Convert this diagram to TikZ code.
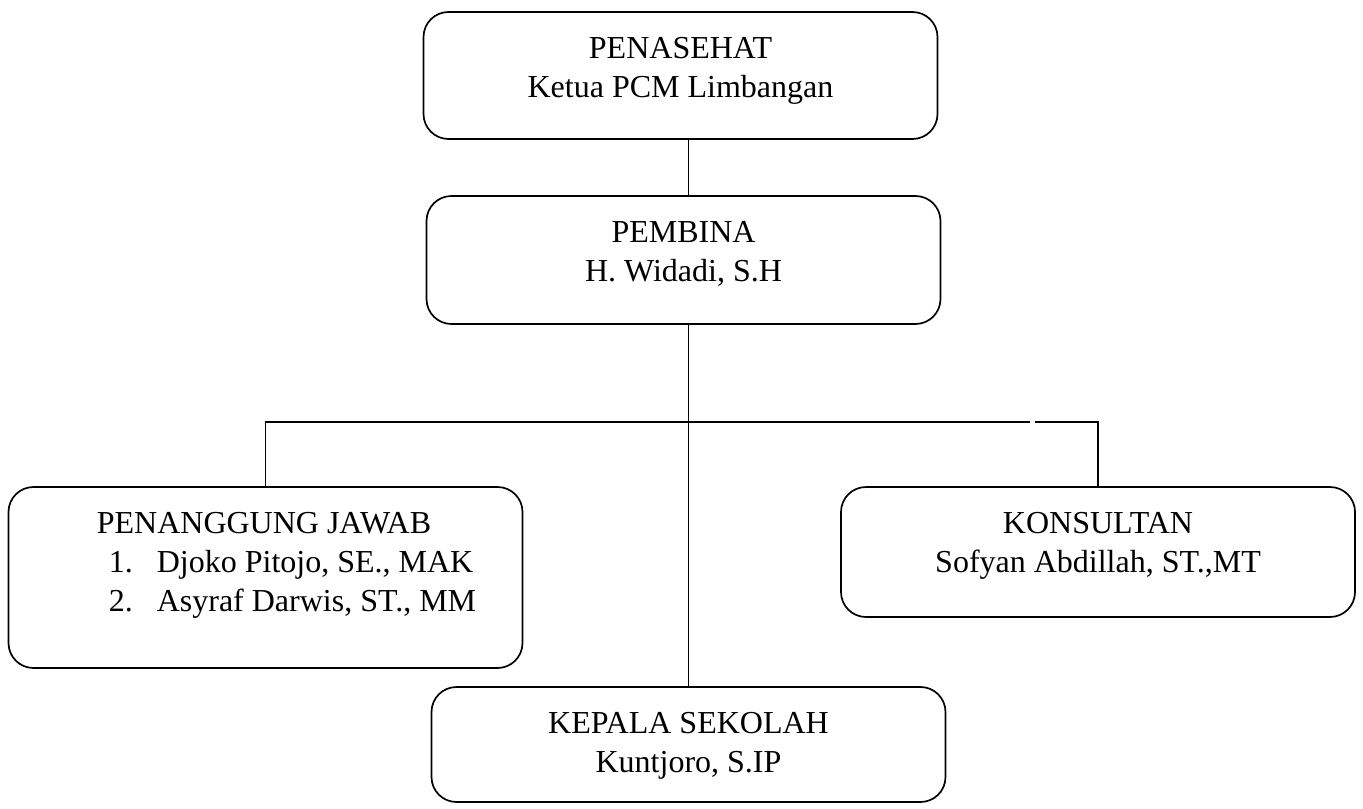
\documentclass[tikz,border=0pt]{standalone}
\usepackage{fontspec}
\setmainfont{Liberation Serif}
\usetikzlibrary{positioning}

\tikzset{
  kotak/.style={draw, rounded corners=12.5pt, minimum width=257pt},
  teks/.style={align=center, inner sep=0pt, font=\fontsize{16pt}{19.5pt}\selectfont},
}

\begin{document}
\begin{tikzpicture}[x=0.5pt, y=-0.5pt, line width=0.85pt, node distance=12.5pt]
        \useasboundingbox (0,0) rectangle (1363,808);

        % Penasehat dan pembina
        \node[kotak, minimum height=63.5pt] (penasehat) at (680.5,75.5) {};
        \node[teks, below=of penasehat.north] (penasehat-t) {PENASEHAT\\Ketua PCM Limbangan};
        \node[kotak, minimum height=64pt] (pembina) at (683.5,260) {};
        \node[teks, below=of pembina.north] (pembina-t) {PEMBINA\\H. Widadi, S.H};

        % Baris bawah
        \node[kotak, minimum height=90.5pt] (pj) at (265.5,577.5) {};
        \node[teks, align=left, anchor=north west] (pj-t) at (96,511)
            {PENANGGUNG JAWAB\\\hspace*{6pt}\makebox[24pt][l]{1.}Djoko Pitojo, SE., MAK\\\hspace*{6pt}\makebox[24pt][l]{2.}Asyraf Darwis, ST., MM};
        \node[kotak, minimum height=65pt] (konsultan) at (1098,552) {};
        \node[teks, below=of konsultan.north] (konsultan-t) {KONSULTAN\\Sofyan Abdillah, ST.,MT};
        \node[kotak, minimum height=57.5pt] (kepsek) at (688.5,744.5) {};
        \node[teks, below=of kepsek.north] (kepsek-t) {KEPALA SEKOLAH\\Kuntjoro, S.IP};

        % Garis
        \coordinate (gapL) at (1030,422);
        \coordinate (gapR) at (1035,422);
        \draw (penasehat.south -| kepsek.north) -- (pembina.north -| kepsek.north);
        \draw (pembina.south -| kepsek.north) -- (kepsek.north);
        \draw (pj.north) |- (gapL);
        \draw (gapR) -| (konsultan.north);
\end{tikzpicture}
\end{document}
